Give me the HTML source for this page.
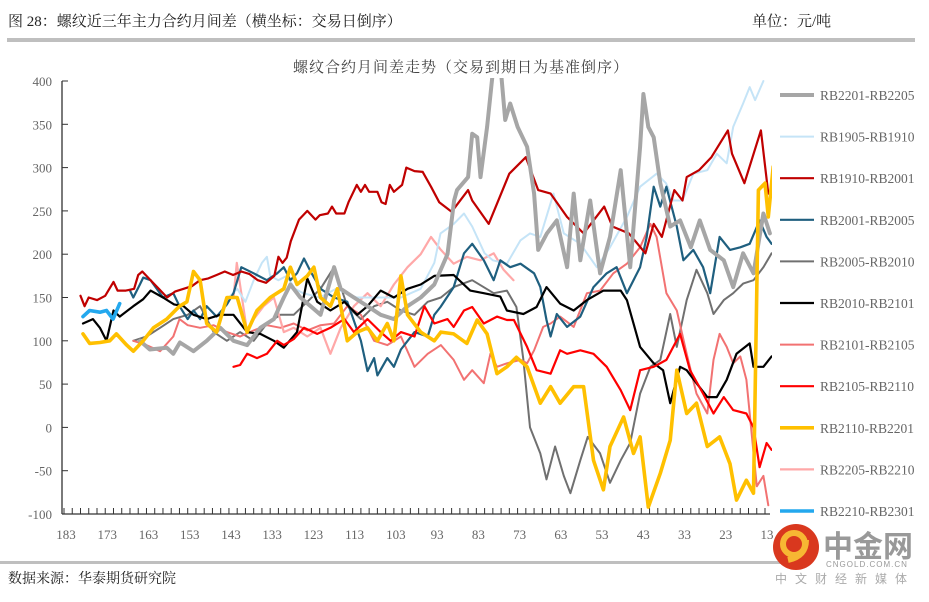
<!DOCTYPE html>
<html><head><meta charset="utf-8"><style>
body{margin:0;background:#fff;width:929px;height:597px;overflow:hidden;font-family:"Liberation Serif","Noto Serif CJK SC",serif;}
</style></head><body>
<svg id="c" width="929" height="597" xmlns="http://www.w3.org/2000/svg">
<text x="8" y="26" font-size="15" fill="#222" font-family="Liberation Serif, Noto Serif CJK SC, serif">图 28：螺纹近三年主力合约月间差（横坐标：交易日倒序）</text>
<text x="752" y="26" font-size="15" fill="#222" font-family="Liberation Serif, Noto Serif CJK SC, serif">单位：元/吨</text>
<rect x="7" y="38" width="908" height="4" fill="#bfbfbf"/>
<text x="461" y="72" font-size="15" fill="#444" text-anchor="middle" font-family="Liberation Serif, Noto Serif CJK SC, serif" letter-spacing="1">螺纹合约月间差走势（交易到期日为基准倒序）</text>
<defs><clipPath id="pc"><rect x="64" y="78" width="708" height="437"/></clipPath></defs>
<g id="axes"></g>
<g id="series" clip-path="url(#pc)"></g>
<g id="legend"></g>
<rect x="0" y="561" width="790" height="3" fill="#bfbfbf"/>
<text x="8" y="583" font-size="14" fill="#222" font-family="Liberation Serif, Noto Serif CJK SC, serif">数据来源：华泰期货研究院</text>
<g>
<circle cx="796" cy="547" r="23" fill="#d9381e"/>
<circle cx="794" cy="544" r="11" fill="none" stroke="#f7b733" stroke-width="6"/>
<path d="M788 560 Q806 556 806 540" stroke="#f7b733" stroke-width="6" fill="none"/>
<text x="823" y="557" font-size="30" font-weight="bold" fill="#999" font-family="Noto Sans CJK SC, sans-serif">中金网</text>
<text x="826" y="567" font-size="8" fill="#999" font-family="Liberation Sans, sans-serif" letter-spacing="1">CNGOLD.COM.CN</text>
<text x="775" y="583" font-size="12" fill="#aaa" font-family="Noto Sans CJK SC, sans-serif" letter-spacing="8">中文财经新媒体</text>
</g>
</svg>
<script>
const yTicks=[400,350,300,250,200,150,100,50,0,-50,-100];
const xTicks=[183,173,163,153,143,133,123,113,103,93,83,73,63,53,43,33,23,13];
const names=["RB2201-RB2205","RB1905-RB1910","RB1910-RB2001","RB2001-RB2005","RB2005-RB2010","RB2010-RB2101","RB2101-RB2105","RB2105-RB2110","RB2110-RB2201","RB2205-RB2210","RB2210-RB2301"];
const d2201=[164.6,162.2,158.1,156.5,154.9,151.6,148.4,145.1,141.9,138.6,135.4,132.1,129.7,128.1,125.7,123.2,120.8,117.5,115.9,112.7,109.4,106.2,103,99.7,96.5,93.2,90,88.4,87.7,85,84,82.8,82,80.4,78.8,77.2,76,74.8,73,70.7,69,68,65.9,63.5,61,59.4,57.8,55.4,53,50.6,48,45.7,43.3,42.5,41.3,40,38.4,36,33.6,31,28.8,26.3,23,20.7,18.3,15.8,13.4,11.8];
const v2201=[100,90,92,85,98,88,100,115,100,95,115,125,150,165,150,140,130,185,160,150,140,130,125,140,150,165,200,262,274,289,339,335,289,347,420,420,355,374,347,324,270,205,224,239,185,270,193,262,178,220,297,185,324,385,347,335,282,232,239,208,239,205,193,162,201,178,247,224];
const d1905=[143,141,139,137,135,133.8,133,131,129,127,125,121,117,112,107.8,101.3,96.5,93.2,91.7,88.5,86,84,81,79,75.6,72.3,70,67.5,64.3,61.8,57.8,53.8,50.6,46.5,43.3,39.3,37,35.2,33,30.4,27,24.7,22.3,20.7,18.3,16.7,15.4,13.4];
const v1905=[150,160,145,170,190,197,175,170,175,160,155,150,160,150,150,150,160,190,224,235,247,232,201,193,189,216,224,220,270,224,212,185,208,243,278,293,282,262,262,293,297,316,305,347,374,393,378,400];
const d1910=[179,178,177,175,173,171,170,168,166,165,164,162,160,158,156,154,152,150,148,146,144,142,140,138,136,134,132,131,130,129,128,126,124,122,121,119,118,117,115,114,112,111,110,109,107,106,105,104,103,101,100,98,96,94,92,89,85,84,80,75,71,68,65,61,57,52,50,46,42,40,38,35,33,32,29,26,22,21,18,14,12.2];
const v1910=[152,140,150,147,152,168,158,158,160,176,180,170,160,150,157,160,163,170,172,176,180,176,180,177,170,167,175,197,190,196,215,240,250,240,245,247,255,247,247,260,280,272,280,272,272,260,258,280,272,280,300,296,295,278,260,249,274,262,235,293,312,274,270,243,224,255,232,224,201,235,220,274,262,289,297,312,343,316,282,343,270];
const d2001=[167,166.2,164.6,163.8,162,160.5,159,156.5,155,153,151.6,150,148.4,146,143.5,141.9,140,137,133.8,131.3,129.7,128.1,126.5,124.8,123.2,120.8,117.5,114.3,111,109.4,107.8,107,104.6,103,101.3,98,94.8,93.2,91.7,88.5,86,84,81.2,78.8,77.2,74.8,72.3,69,67.5,66,65,63.5,61,57.8,54.6,51.4,49,46.5,43.3,41.7,40,38.4,36.9,34.4,32.8,30.4,28,26.3,24,21.5,19,16.7,14.3,12.6,11.4];
const v2001=[158,150,165,173,170,160,150,155,140,125,135,125,140,128,142,155,185,178,170,178,185,170,178,195,180,160,150,145,100,65,80,60,80,70,90,110,105,130,139,162,201,212,193,170,193,185,189,178,162,124,105,131,116,128,162,178,185,155,185,220,278,255,278,232,193,205,185,155,220,205,208,212,239,220,212];
const d2005=[166.2,163,159.7,156.5,153,150,146.7,143.5,140.3,137,133.8,130.5,127.3,124,120.8,117.5,114.3,111,107.8,104.6,101.3,98,94.8,91.6,88.5,84,78.8,75.6,73.3,71.6,70,67.5,66,63.9,61.8,60.2,57.8,56,53,50.6,48,45.7,43.3,40.8,38.4,36,34.4,32,29.6,27,25.5,23,20.7,18.3,15.8,13.4,11.4];
const v2005=[100,105,115,125,130,140,110,100,110,100,120,130,130,145,160,185,140,125,140,145,135,130,145,150,162,170,155,158,139,78,0,-30,-60,-22,-56,-76,-38,-11,-30,-64,-38,-18,39,70,78,131,93,147,182,155,131,147,155,166,170,185,201];
const d2010=[178.4,176,174.3,172.7,171,169.5,166.2,163.8,162,159,156.3,154,151.6,148.4,145.1,141.9,138.6,135.4,132.1,129.7,126.5,124,121.6,118.4,115,111.9,109.4,106.2,103,99.7,96.5,93.2,88.5,84.5,81.2,77.2,75.6,71.6,68.4,66,62.7,59.4,56.2,52.2,48,46.5,43.3,40,37.7,36,33.6,32,29.6,27,24.7,22.3,19.9,16.7,15.8,13.4,11.4];
const v2010=[120,125,115,100,135,128,140,148,158,150,142,140,130,125,130,130,110,108,100,92,110,172,145,135,145,130,140,158,150,160,165,175,176,158,155,151,135,131,139,162,143,135,147,158,158,147,93,74,66,28,70,66,51,35,35,55,85,97,70,70,82];
const d2101=[166.2,163,159.7,156.5,155,153,150,146.7,143.5,140.3,137,133.8,130.5,127.3,124,120.8,117.5,114.3,111,107.8,104.6,101.3,98,94.8,91.6,88.5,86,84,81.2,79.6,78,75.6,72.3,70.7,69,66.8,65,62.7,59.4,56.2,53,49.8,46.5,43.3,40.8,39.3,36.9,34.4,32,29.6,27,25.5,24,22.3,20.7,19,17.5,15,13.4,12.2];
const v2101=[100,95,88,105,125,118,115,118,110,105,112,118,115,120,112,118,120,140,130,100,95,105,70,85,95,78,55,66,51,85,70,74,78,74,89,116,120,128,116,155,158,178,189,208,235,220,155,135,85,39,16,78,108,93,74,82,55,-68,-56,-90];
const d2105=[141.9,140.3,138.6,136.2,133.8,131.3,129.7,127.3,124.8,121.6,118.4,115,112.7,109.4,106.2,103.8,101.3,98,95.6,93.2,90,88.5,86,84,81.2,78,75.6,73.9,70.7,68.4,65,62.7,61,57.8,54.6,51.4,48,45.7,43.3,40,36.9,33.6,31.2,28,25.5,23,20.7,17.5,15.8,14.3,12.6,11.4];
const v2105=[70,72,85,80,85,100,95,102,115,108,115,125,110,125,110,100,110,105,140,120,125,116,135,139,120,128,124,124,93,66,62,89,85,89,85,70,43,20,66,70,78,108,66,39,16,35,20,16,0,-46,-18,-26];
const d2110=[178.4,176.8,174.3,171.9,170.3,167.8,166.2,163.8,161.3,158.1,155,153.2,151.6,150,148.4,146,143.5,141,138.6,136.2,133,129.7,128.1,126.5,124,122.4,120.8,118.4,116.7,114.3,111.9,109.4,107,104.6,103,101.3,99.7,96.5,93.2,91.6,88.5,85.3,82.8,80.4,78,75.6,73.3,70.7,67.5,65,62.7,59.4,57,54.6,52.2,50.6,47.3,44.9,43.3,41.3,38.4,36,34.4,32,29.6,27,24,21.5,19.9,17.5,15.8,14.6,13,12.2,11];
const v2110=[108,97,98,100,108,95,88,100,115,125,140,145,180,170,120,110,150,150,110,135,150,160,185,165,175,185,150,140,160,100,110,115,100,120,100,175,130,110,100,110,108,97,124,108,62,70,81,70,28,47,28,47,47,-38,-72,-22,12,-30,-11,-92,-53,-15,66,16,28,-22,-11,-42,-84,-61,-76,274,282,243,301];
const d2205=[141.9,141.1,138.6,137,134.6,132.1,129.7,127.3,124,120.8,118.4,115.9,112.7,109.4,106.2,103,99.7,96.5,94,91.6,88.5,85.3,82,78.8,76.4,74];
const v2205=[150,190,110,125,140,150,110,115,105,115,85,115,140,155,140,165,185,200,220,205,189,197,193,201,182,170];
const d2210=[178.4,176.8,174.3,172.7,171.1,169.5];
const v2210=[128,135,133,135,125,143];

const days=[d2201,d1905,d1910,d2001,d2005,d2010,d2101,d2105,d2110,d2205,d2210];
const vals=[v2201,v1905,v1910,v2001,v2005,v2010,v2101,v2105,v2110,v2205,v2210];
const colors=["#a6a6a6","#c5e4f7","#c00000","#1f5f7f","#707070","#000000","#f27272","#ff0000","#ffc000","#ffa8a8","#23a8ee"];
const widths=[4,2,2.2,2.2,2,2.2,2,2.2,3.6,2.2,3.6];

const NS="http://www.w3.org/2000/svg";
const X0=64,X1=765,Y0=81,Y1=514;
function xs(d){return X0+(183-d)*(X1-X0)/170;}
function ys(v){return Y0+(400-v)*(Y1-Y0)/500;}
function mk(t,a,p){const e=document.createElementNS(NS,t);for(const k in a)e.setAttribute(k,a[k]);p.appendChild(e);return e;}
const ax=document.getElementById('axes');
let yl=mk('line',{x1:X0-2,y1:Y0,x2:X0-2,y2:Y1,stroke:'#333','stroke-width':1.3},ax);


let xl=mk('line',{x1:X0-2,y1:Y1,x2:770,y2:Y1,stroke:'#333','stroke-width':1.3},ax);


yTicks.forEach(v=>{
  mk('line',{x1:X0-2,y1:ys(v),x2:X0+4,y2:ys(v),stroke:'#333','stroke-width':1},ax);
  const t=mk('text',{x:52,y:ys(v)+5,'text-anchor':'end','font-size':13,fill:'#666'},ax);
  t.textContent=v;
  
  
});
for(let d=183;d>=12;d-=2){mk('line',{x1:xs(d),y1:Y1,x2:xs(d),y2:Y1-6,stroke:'#333','stroke-width':1},ax);}
xTicks.forEach(d=>{
  const t=mk('text',{x:xs(d)+2,y:539,'text-anchor':'middle','font-size':13,fill:'#666'},ax);
  t.textContent=d;
  
  
});
const sg=document.getElementById('series');
const order=[4,6,9,1,3,5,7,2,0,8,10];
order.forEach(i=>{
  const pts=days[i].map((d,j)=>xs(d).toFixed(1)+','+ys(vals[i][j]).toFixed(1)).join(' ');
  const p=mk('polyline',{points:pts,fill:'none',stroke:colors[i],'stroke-width':widths[i],'stroke-linejoin':'round','stroke-linecap':'round'},sg);
  
  
});
const lg=document.getElementById('legend');
names.forEach((n,i)=>{
  const y=95+i*41.6;
  const g=mk('g',{},lg);
  
  
  mk('line',{x1:780,y1:y,x2:814,y2:y,stroke:colors[i],'stroke-width':widths[i]},g);
  const t=mk('text',{x:820,y:y+5,'font-size':13.5,fill:'#666'},g);
  t.textContent=n;
});
</script>
</body></html>
